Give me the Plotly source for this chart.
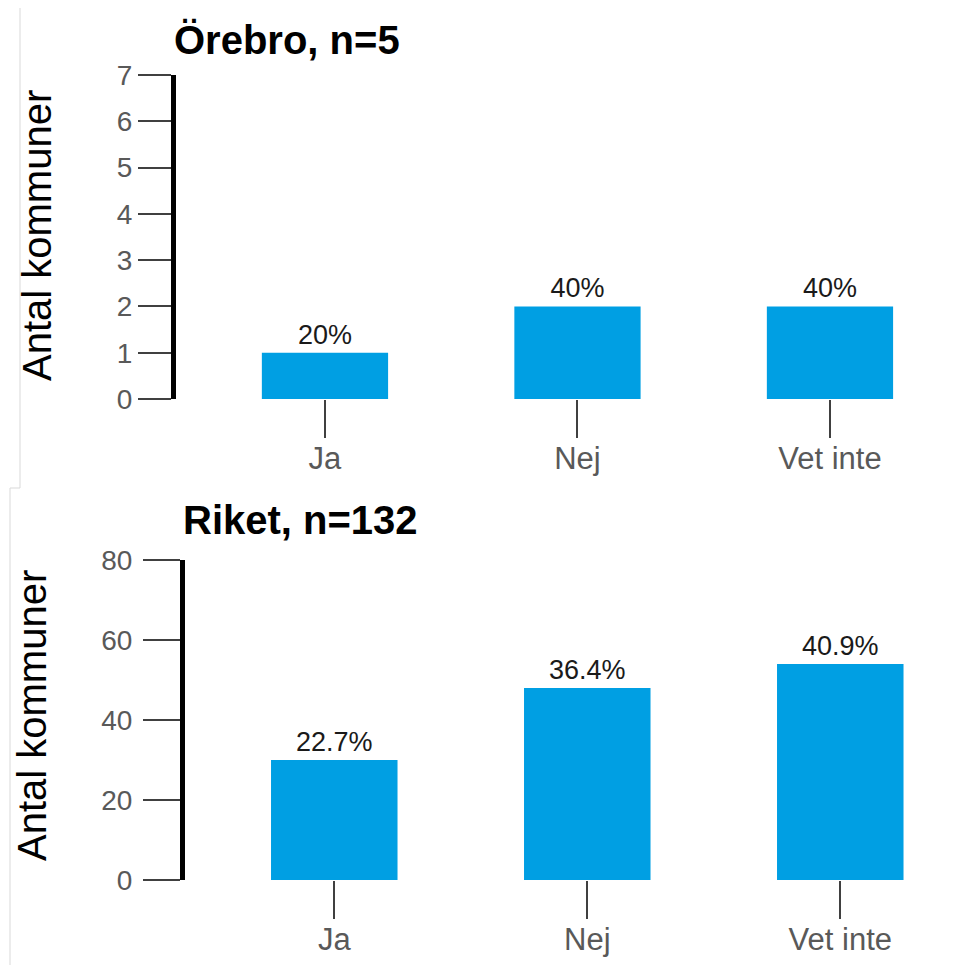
import plotly.graph_objects as go

W, H = 978, 965
OFF = 8  # page body margin offset

categories = ["Ja", "Nej", "Vet inte"]
orebro_counts = [1, 2, 2]
orebro_pct = ["20%", "40%", "40%"]
riket_counts = [30, 48, 54]
riket_pct = ["22.7%", "36.4%", "40.9%"]
orebro_title = "Örebro, n=5"
riket_title = "Riket, n=132"
y_title = "Antal kommuner"

BAR = "#009FE3"
FONT = "Liberation Sans, Arial, sans-serif"

def px_x(p):
    return (p - OFF) / W

def px_y(p):
    return 1 - (p - OFF) / H

fig = go.Figure()

fig.add_trace(go.Bar(
    x=categories, y=orebro_counts, text=orebro_pct, textposition="outside",
    marker=dict(color=BAR, line=dict(width=0)), width=0.5,
    textfont=dict(size=27, color="#1a1a1a", family=FONT), constraintext="none",
    cliponaxis=False, xaxis="x", yaxis="y", showlegend=False, hoverinfo="skip"))

fig.add_trace(go.Bar(
    x=categories, y=riket_counts, text=riket_pct, textposition="outside",
    marker=dict(color=BAR, line=dict(width=0)), width=0.5,
    textfont=dict(size=27, color="#1a1a1a", family=FONT), constraintext="none",
    cliponaxis=False, xaxis="x2", yaxis="y2", showlegend=False, hoverinfo="skip"))

xcommon = dict(type="category", showline=False, showgrid=False, zeroline=False, automargin=False,
               ticks="outside", ticklen=38, tickwidth=2, tickcolor="#404040", ticklabelstandoff=-6,
               tickfont=dict(size=31, color="#595959", family=FONT), fixedrange=True)
ycommon = dict(showline=True, linewidth=5, linecolor="black", showgrid=False, zeroline=False, automargin=False,
               ticks="outside", tickwidth=2, tickcolor="#404040",
               tickfont=dict(size=28, color="#595959", family=FONT), fixedrange=True)

fig.update_layout(
    width=W, height=H, margin=dict(l=0, r=0, t=0, b=0, pad=0, autoexpand=False),
    paper_bgcolor="white", plot_bgcolor="white",
    font=dict(family=FONT),
    xaxis=dict(**xcommon, domain=[px_x(176), px_x(176 + 3.09 * 252.5)], range=[-0.59, 2.5], anchor="y"),
    yaxis=dict(**ycommon, ticklen=33, domain=[px_y(399), px_y(75)], range=[0, 7], dtick=1, anchor="x"),
    xaxis2=dict(**xcommon, domain=[px_x(185), px_x(185 + 3.09 * 253)], range=[-0.59, 2.5], anchor="y2"),
    yaxis2=dict(**ycommon, ticklen=37, ticklabelstandoff=5, domain=[px_y(880), px_y(560)],
                range=[0, 80], dtick=20, anchor="x2"),
    bargap=0.5,
)

annotations = [
    dict(text="<b>" + orebro_title + "</b>", x=px_x(172), y=px_y(40), xref="paper", yref="paper",
         xanchor="left", yanchor="middle", showarrow=False, font=dict(size=40, color="black", family=FONT)),
    dict(text="<b>" + riket_title + "</b>", x=px_x(181), y=px_y(520), xref="paper", yref="paper",
         xanchor="left", yanchor="middle", showarrow=False, font=dict(size=40, color="black", family=FONT)),
    dict(text=y_title, x=px_x(37), y=px_y(236), xref="paper", yref="paper", textangle=-90,
         xanchor="center", yanchor="middle", showarrow=False, font=dict(size=40, color="black", family=FONT)),
    dict(text=y_title, x=0, y=px_y(716), xref="paper", yref="paper", textangle=-90,
         xanchor="left", yanchor="middle", showarrow=False, font=dict(size=40, color="black", family=FONT)),
]
fig.update_layout(annotations=annotations)

border = dict(color="#d9d9d9", width=1)
fig.update_layout(shapes=[
    dict(type="line", xref="paper", yref="paper", x0=px_x(20), x1=px_x(20), y0=1, y1=px_y(488), line=border),
    dict(type="line", xref="paper", yref="paper", x0=px_x(10), x1=px_x(20), y0=px_y(488), y1=px_y(488), line=border),
    dict(type="line", xref="paper", yref="paper", x0=px_x(10), x1=px_x(10), y0=px_y(488), y1=0, line=border),
])

fig.write_html("out.html")
